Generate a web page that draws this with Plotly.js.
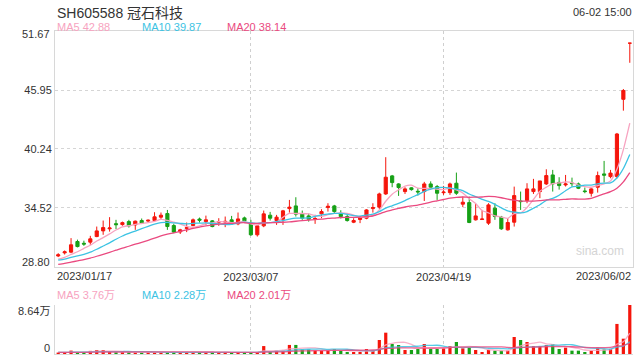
<!DOCTYPE html>
<html>
<head>
<meta charset="utf-8">
<script src="https://cdn.plot.ly/plotly-3.0.1.min.js"></script>
<style>html,body{margin:0;padding:0;background:#fff}#chart{width:640px;height:360px}</style>
</head>
<body>
<div id="chart"></div>
<script>
const dates = [
'2023/01/17','2023/01/18','2023/01/19','2023/01/20','2023/01/30','2023/01/31',
'2023/02/01','2023/02/02','2023/02/03','2023/02/06','2023/02/07','2023/02/08','2023/02/09','2023/02/10',
'2023/02/13','2023/02/14','2023/02/15','2023/02/16','2023/02/17','2023/02/20','2023/02/21','2023/02/22',
'2023/02/23','2023/02/24','2023/02/27','2023/02/28',
'2023/03/01','2023/03/02','2023/03/03','2023/03/06','2023/03/07','2023/03/08','2023/03/09','2023/03/10',
'2023/03/13','2023/03/14','2023/03/15','2023/03/16','2023/03/17','2023/03/20','2023/03/21','2023/03/22',
'2023/03/23','2023/03/24','2023/03/27','2023/03/28','2023/03/29','2023/03/30','2023/03/31',
'2023/04/03','2023/04/04','2023/04/06','2023/04/07','2023/04/10','2023/04/11','2023/04/12','2023/04/13',
'2023/04/14','2023/04/17','2023/04/18','2023/04/19','2023/04/20','2023/04/21','2023/04/24','2023/04/25',
'2023/04/26','2023/04/27','2023/04/28',
'2023/05/04','2023/05/05','2023/05/08','2023/05/09','2023/05/10','2023/05/11','2023/05/12','2023/05/15',
'2023/05/16','2023/05/17','2023/05/18','2023/05/19','2023/05/22','2023/05/23','2023/05/24','2023/05/25',
'2023/05/26','2023/05/29','2023/05/30','2023/05/31','2023/06/01','2023/06/02'];

const open = [29.87,30.17,30.24,31.27,31.10,31.21,31.75,32.30,32.50,33.00,
32.91,33.20,32.88,33.30,33.25,33.30,33.63,33.98,32.82,32.20,
32.55,32.82,33.45,33.20,33.27,33.14,33.15,33.37,32.98,33.56,
33.05,31.92,32.79,33.82,33.30,33.43,34.46,34.72,33.95,33.75,
33.45,33.95,34.56,34.72,34.01,33.69,33.14,33.40,33.53,34.46,
34.60,35.88,37.63,36.85,36.11,36.47,36.14,36.11,36.85,36.59,
36.00,36.01,36.92,34.89,35.04,33.37,33.40,33.05,34.50,33.63,
32.40,33.14,35.20,35.24,36.11,36.11,36.85,37.72,37.00,36.75,
36.93,36.85,36.17,35.95,36.53,37.82,37.56,37.56,45.05,50.49];
const high = [30.14,30.40,31.60,31.45,31.35,31.82,32.72,33.30,33.63,33.37,
33.20,33.37,33.30,33.50,33.40,34.11,34.08,34.33,33.00,32.50,
33.11,33.50,33.59,33.78,33.35,33.53,33.69,33.75,34.08,33.68,
33.37,32.85,34.27,34.14,33.85,34.33,35.30,35.56,34.27,33.98,
33.85,34.40,34.98,34.82,34.30,33.85,33.53,33.75,34.40,34.98,
36.00,39.44,37.72,36.92,36.53,36.53,36.43,37.05,37.10,36.75,
36.66,36.98,37.95,35.62,35.62,34.92,34.33,34.98,34.98,33.75,
33.53,36.59,36.11,36.92,37.34,37.14,38.27,38.21,37.50,37.72,
37.46,36.98,36.50,36.43,38.05,39.08,38.21,41.79,46.05,50.49];
const low = [29.76,30.01,30.14,30.70,30.85,30.95,31.69,31.92,32.23,32.47,
32.80,32.62,32.40,32.98,33.15,33.20,33.46,32.40,32.08,32.00,
32.18,32.75,33.10,32.88,32.65,32.79,32.66,32.90,32.85,33.10,
31.82,31.75,32.66,33.30,32.88,32.88,34.07,33.69,33.37,33.20,
32.98,33.53,34.17,34.01,33.50,33.20,33.05,33.05,33.43,34.07,
34.40,35.79,36.53,35.69,35.88,36.20,35.72,35.20,36.30,35.30,
35.79,35.79,35.79,34.60,33.05,33.30,33.37,32.88,33.37,32.40,
32.33,32.72,34.33,34.98,35.88,35.47,36.75,36.11,36.30,36.60,
36.59,36.35,35.95,35.62,36.01,36.98,37.40,37.40,43.95,48.59];
const close = [29.98,30.27,30.95,30.78,31.02,31.53,32.30,32.62,32.58,32.90,
33.10,32.79,33.24,33.05,33.33,33.66,33.82,32.72,32.18,32.40,
32.60,33.37,33.33,33.37,32.72,33.20,33.22,32.98,33.46,33.27,
31.92,32.79,33.95,33.53,33.63,34.24,34.60,33.92,33.53,33.43,
33.50,34.17,34.69,34.17,33.69,33.30,33.30,33.60,34.33,34.56,
35.88,37.50,36.98,36.50,36.37,36.30,36.08,36.85,36.53,35.95,
36.06,36.85,35.95,35.08,33.11,33.75,33.45,34.82,33.69,32.50,
33.11,35.72,35.14,36.37,36.37,37.14,37.66,36.85,36.69,36.85,
36.88,36.43,36.11,36.37,37.66,37.70,37.90,41.69,45.90,50.49];
// volume, in units of 万 (10k shares)
const volume = [0.25,0.25,0.60,0.30,0.30,0.55,0.70,0.70,0.35,0.30,
0.30,0.28,0.30,0.28,0.30,0.28,0.30,0.35,0.30,0.28,
0.28,0.30,0.28,0.30,0.28,0.28,0.30,0.28,0.30,0.28,
0.30,0.35,1.40,0.35,0.60,0.60,1.60,1.60,0.80,0.80,
0.60,0.59,0.59,0.88,0.59,0.35,0.35,0.35,0.88,0.59,
2.47,3.76,1.76,1.59,0.71,0.71,0.88,1.76,0.88,0.88,
1.00,1.41,2.12,1.00,1.12,0.71,0.35,0.71,0.59,0.59,
0.59,3.00,2.47,2.12,1.41,1.41,1.59,1.76,0.88,1.12,
0.59,0.59,0.35,0.59,1.12,0.80,0.90,5.30,2.70,8.64];
// sessions before the window (for moving averages)
const prevClose = [28.30,28.40,28.50,28.60,28.50,28.70,28.80,28.70,28.90,29.00,
29.20,29.30,29.40,29.40,29.50,29.40,29.50,29.50,29.40];
const prevVolume = [0.30,0.28,0.30,0.25,0.28,0.30,0.25,0.28,0.30,0.28,
0.30,0.25,0.28,0.30,0.28,0.25,0.28,0.30,0.28];

const priceTicks = [28.80,34.52,40.24,45.95,51.67];
const volTicks = [0, 8.64];
const volTickText = ['0','8.64万'];
const xTickVals = ['2023/03/07','2023/04/19'];
const endLabels = ['2023/01/17','2023/06/02'];

const UP = '#f5150b', DOWN = '#16a016';
const C5 = '#f7a3c0', C10 = '#3cc3e3', C20 = '#ea4a80';

function ma(series, prev, n){
  const all = prev.concat(series);
  const out = [];
  for (let i = 0; i < series.length; i++){
    const end = prev.length + i;
    let s = 0;
    for (let k = end - n + 1; k <= end; k++) s += all[k];
    out.push(s / n);
  }
  return out;
}

const traces = [];
traces.push({
  type:'candlestick', x:dates, open:open, high:high, low:low, close:close,
  xaxis:'x', yaxis:'y', hoverinfo:'none', whiskerwidth:0,
  increasing:{line:{color:UP,width:1}, fillcolor:UP},
  decreasing:{line:{color:DOWN,width:1}, fillcolor:DOWN},
  showlegend:false
});
[[5,C5],[10,C10],[20,C20]].forEach(([n,c])=>{
  traces.push({type:'scatter', mode:'lines', x:dates, y:ma(close, prevClose, n),
    xaxis:'x', yaxis:'y', line:{color:c,width:1.3,shape:'spline',smoothing:0.6},
    hoverinfo:'none', showlegend:false});
});
traces.push({
  type:'bar', x:dates, y:volume, xaxis:'x2', yaxis:'y2',
  marker:{color: close.map((c,i)=> c>=open[i] ? UP : DOWN), line:{width:0}},
  hoverinfo:'none', showlegend:false
});
[[5,C5],[10,C10],[20,C20]].forEach(([n,c])=>{
  traces.push({type:'scatter', mode:'lines', x:dates, y:ma(volume, prevVolume, n),
    xaxis:'x2', yaxis:'y2', line:{color:c,width:1.3,shape:'spline',smoothing:0.6},
    opacity:0.85, hoverinfo:'none', showlegend:false});
});

const W = 640, H = 360;
const px = v => v / W, py = v => 1 - v / H;
const FONT = 'Liberation Sans, Arial, Noto Sans CJK SC, sans-serif';

const annotations = [
  {text:'SH605588 冠石科技', x:px(55), y:py(13), xanchor:'left', yanchor:'middle', font:{size:14,color:'#333'}},
  {text:'06-02 15:00', x:px(634), y:py(12), xanchor:'right', yanchor:'middle', font:{size:11,color:'#333'}},
  {text:'MA5 42.88', x:px(55), y:py(27), xanchor:'left', yanchor:'middle', font:{size:11,color:C5}},
  {text:'MA10 39.87', x:px(140), y:py(27), xanchor:'left', yanchor:'middle', font:{size:11,color:C10}},
  {text:'MA20 38.14', x:px(225), y:py(27), xanchor:'left', yanchor:'middle', font:{size:11,color:C20}},
  {text:'MA5 3.76万', x:px(55), y:py(295), xanchor:'left', yanchor:'middle', font:{size:11,color:C5}},
  {text:'MA10 2.28万', x:px(140), y:py(295), xanchor:'left', yanchor:'middle', font:{size:11,color:C10}},
  {text:'MA20 2.01万', x:px(225), y:py(295), xanchor:'left', yanchor:'middle', font:{size:11,color:C20}},
  {text:'sina.com', x:px(600), y:py(251), xanchor:'center', yanchor:'middle', font:{size:12,color:'#d4d4d4'}},
  {text:endLabels[0], xref:'x', x:-0.5, yref:'paper', y:py(276), xanchor:'left', yanchor:'middle', font:{size:11,color:'#333'}},
  {text:endLabels[1], xref:'x', x:89.5, yref:'paper', y:py(276), xanchor:'right', yanchor:'middle', font:{size:11,color:'#333'}},
  // end tick labels of the axes, pulled inward as in the reference
  {text:priceTicks[4].toFixed(2), x:px(52), yref:'y', y:priceTicks[4], yshift:-3, xanchor:'right', yanchor:'middle', font:{size:11,color:'#333'}},
  {text:priceTicks[0].toFixed(2), x:px(52), yref:'y', y:priceTicks[0], yshift:5, xanchor:'right', yanchor:'middle', font:{size:11,color:'#333'}},
  {text:volTickText[1], x:px(52), yref:'y2', y:volTicks[1], yshift:-6, xanchor:'right', yanchor:'middle', font:{size:11,color:'#333'}},
  {text:volTickText[0], x:px(52), yref:'y2', y:volTicks[0], yshift:6, xanchor:'right', yanchor:'middle', font:{size:11,color:'#333'}}
].map(a => Object.assign({xref:'paper', yref:'paper', showarrow:false}, a));

const layout = {
  width:W, height:H, margin:{l:0,r:0,t:0,b:0},
  paper_bgcolor:'#fff', plot_bgcolor:'#fff',
  font:{family:FONT, size:11, color:'#333'},
  showlegend:false, bargap:0.5, hovermode:false,
  xaxis:{domain:[px(55),px(633)], type:'category', range:[-0.5,89.5], anchor:'y',
    tickvals:xTickVals, ticktext:xTickVals, ticks:'', showgrid:true, gridcolor:'#cfcfcf', griddash:'dot', gridwidth:1,
    showline:true, mirror:true, linecolor:'#d8d8d8', linewidth:1, zeroline:false,
    rangeslider:{visible:false}, tickfont:{size:11,color:'#333'}, fixedrange:true},
  xaxis2:{domain:[px(55),px(633)], type:'category', range:[-0.5,89.5], anchor:'y2', matches:'x',
    tickvals:xTickVals, showticklabels:false, ticks:'', showgrid:true, gridcolor:'#cfcfcf', griddash:'dot',
    showline:true, linecolor:'#d8d8d8', zeroline:false, fixedrange:true},
  yaxis:{domain:[py(267),py(31)], range:[priceTicks[0], priceTicks[4]], anchor:'x',
    tickvals:priceTicks, ticktext:priceTicks.map((v,i)=> (i===0||i===priceTicks.length-1) ? '' : v.toFixed(2)), ticks:'',
    showgrid:true, gridcolor:'#d5d5d5', griddash:'dot', showline:true, mirror:true,
    linecolor:'#d8d8d8', zeroline:false, tickfont:{size:11,color:'#333'}, fixedrange:true},
  yaxis2:{domain:[py(354),py(305)], range:[0,8.64], anchor:'x2',
    tickvals:volTicks, ticktext:['',''], ticks:'',
    showgrid:true, gridcolor:'#d5d5d5', griddash:'dot', showline:true,
    linecolor:'#d8d8d8', zeroline:false, tickfont:{size:11,color:'#333'}, fixedrange:true},
  annotations:annotations
};

Plotly.newPlot('chart', traces, layout, {staticPlot:true, displayModeBar:false});
</script>
</body>
</html>
